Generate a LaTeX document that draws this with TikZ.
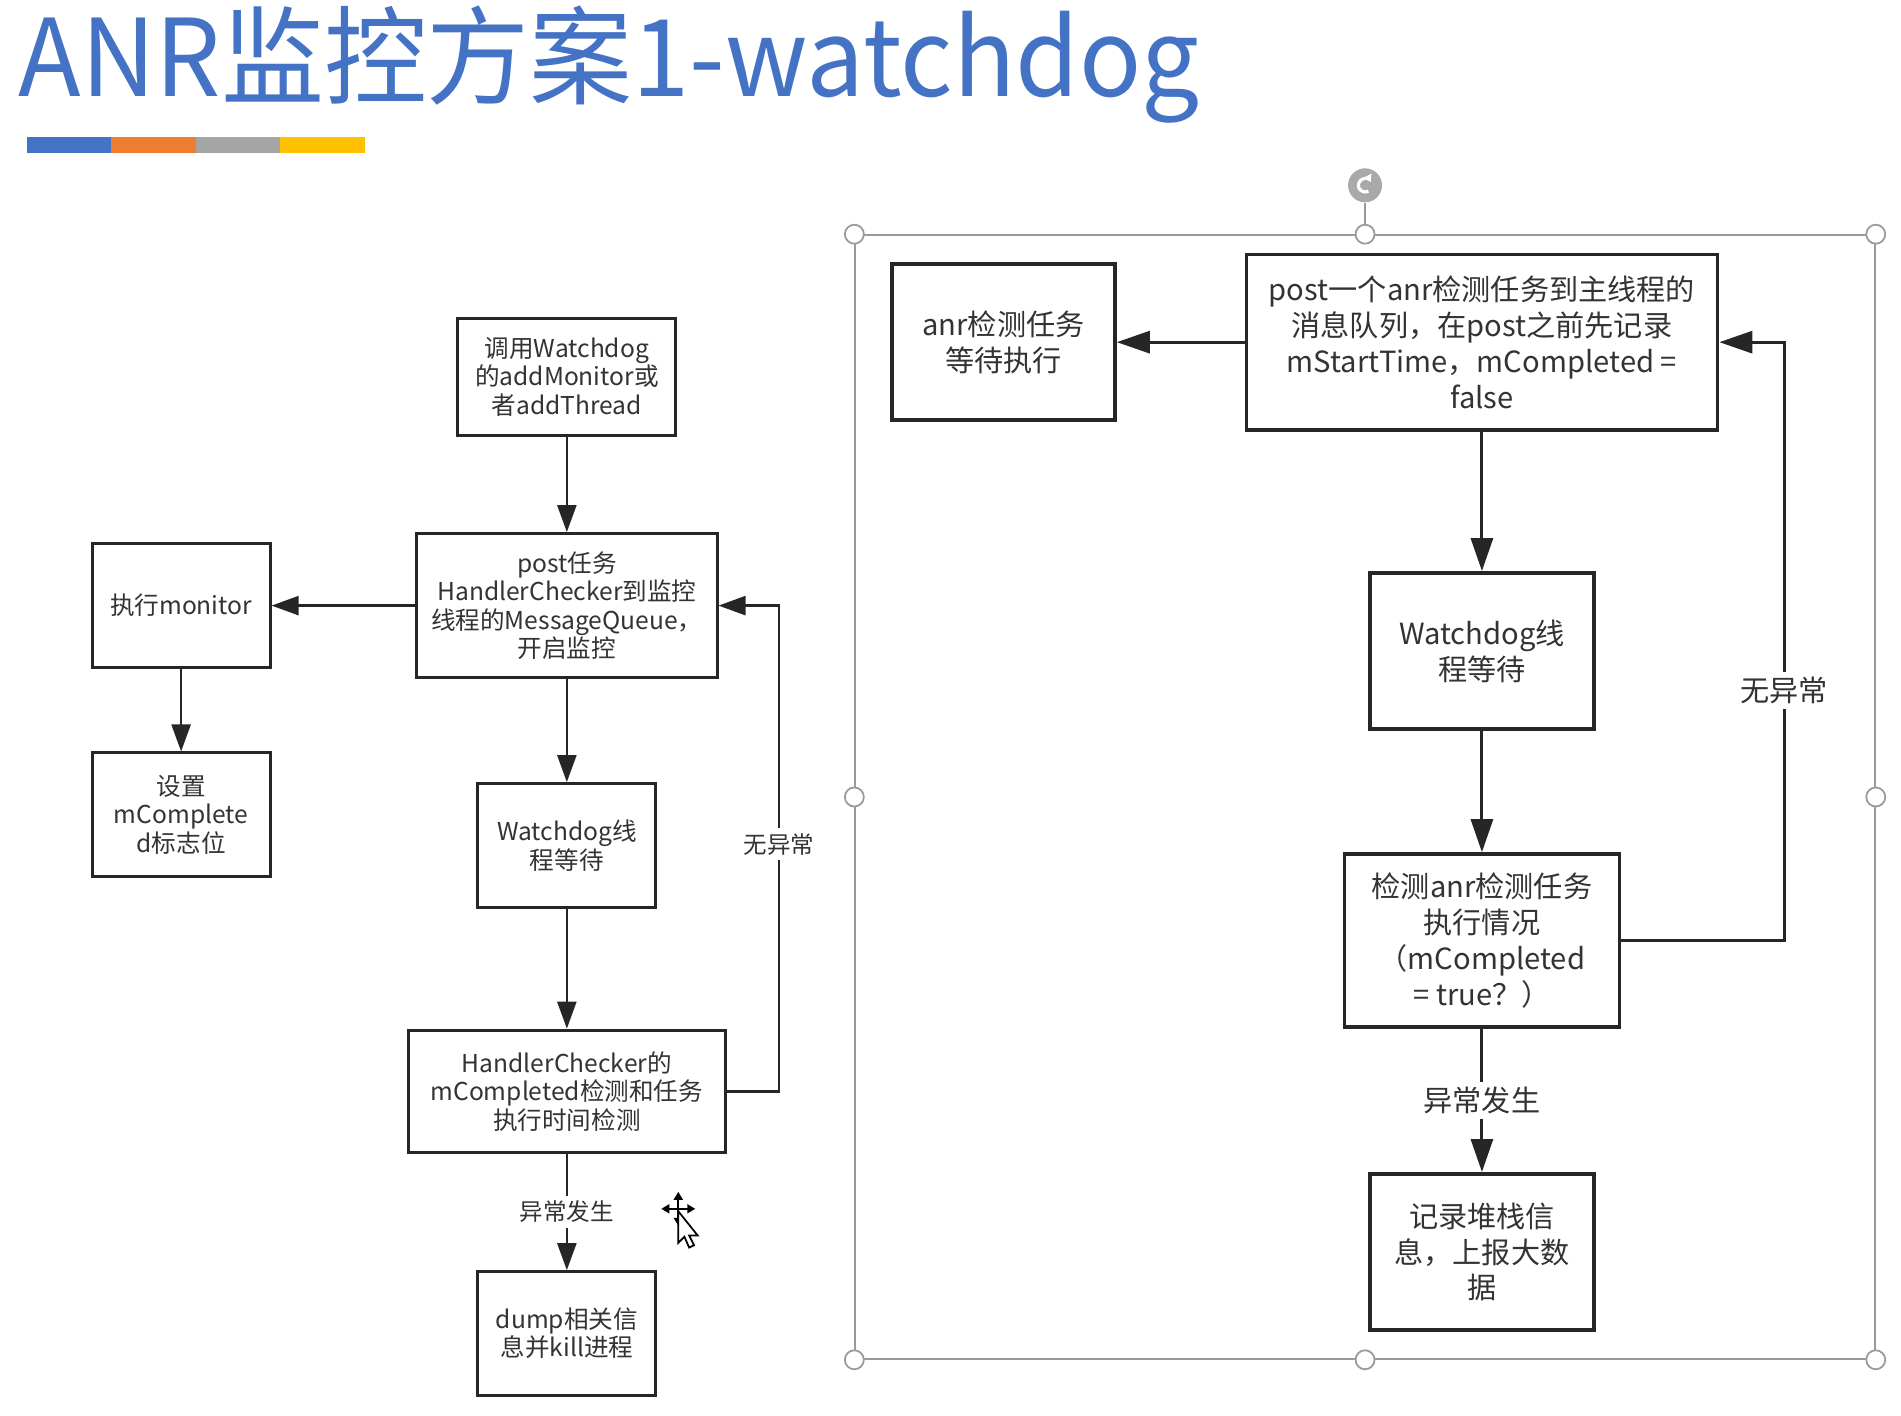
\documentclass[tikz,border=0pt]{standalone}
\usepackage{fontspec}
\setmainfont{Noto Sans CJK SC}
\usepackage{graphicx}
\usepackage{tikz}
\usetikzlibrary{positioning, arrows.meta, calc}
\definecolor{ttl}{HTML}{4472C4}
\definecolor{barorange}{HTML}{ED7D31}
\definecolor{bargray}{HTML}{A5A5A5}
\definecolor{baryellow}{HTML}{FFC000}
\definecolor{txt}{HTML}{333333}
\definecolor{hgray}{HTML}{9A9A9A}
\newcommand{\Lfont}{\fontsize{7pt}{8.1pt}\selectfont}
\newcommand{\Rfont}{\fontsize{8.3pt}{10.2pt}\selectfont}
\tikzset{
    blk/.style={draw=black!85, line width=0.85pt, align=center, text=txt, inner sep=2pt},
    lblk/.style={blk, font=\Lfont},
    rblk/.style={blk, line width=1.05pt, font=\Rfont},
    lab/.style={fill=white, text=txt, inner sep=1.5pt},
    handle/.style={circle, draw=hgray, fill=white, line width=0.5pt, minimum size=0.19cm, inner sep=0pt},
}

\begin{document}
\begin{tikzpicture}[x=0.012113cm, y=-0.012113cm]
    \tikzset{
      flow/.style={-{Triangle[length=0.27cm, width=0.19cm]}, line width=0.7pt, draw=black!85},
      rflow/.style={-{Triangle[length=0.33cm, width=0.22cm]}, line width=0.85pt, draw=black!85},
      node distance=1cm
    }
    \useasboundingbox (0,0) rectangle (1569.5,1169);

    % title and colour bar
    \node[anchor=base west, inner sep=0pt, text=ttl, font=\fontsize{30.5pt}{36pt}\selectfont] (title) at (15,80) {\scalebox{0.96}[1]{ANR监控方案1-watchdog}};
    \fill[ttl] (22,113) rectangle (92,126);
    \fill[barorange] (92,113) rectangle (162,126);
    \fill[bargray] (162,113) rectangle (231,126);
    \fill[baryellow] (231,113) rectangle (301,126);

    % left flow
    \node[lblk, minimum width=3.004cm, minimum height=1.441cm] (l1) at (468,500) {post任务\\HandlerChecker到监控\\线程的MessageQueue，\\开启监控};
    \node[lblk, minimum width=2.18cm, minimum height=1.163cm, above=0.956cm of l1] (l0) {调用Watchdog\\的addMonitor或\\者addThread};
    \node[lblk, minimum width=1.781cm, minimum height=1.236cm, left=1.436cm of l1] (l2) {执行monitor};
    \node[lblk, minimum width=1.781cm, minimum height=1.236cm, below=0.826cm of l2] (l3) {设置\\mComplete\\d标志位};
    \node[lblk, minimum width=1.781cm, minimum height=1.236cm, below=1.03cm of l1] (l4) {Watchdog线\\程等待};
    \node[lblk, minimum width=3.174cm, minimum height=1.223cm, below=1.2cm of l4] (l5) {HandlerChecker的\\mCompleted检测和任务\\执行时间检测};
    \node[lblk, minimum width=1.781cm, minimum height=1.236cm, below=1.163cm of l5] (l6) {dump相关信\\息并kill进程};

    \draw[flow] (l0) -- (l1);
    \draw[flow] (l1) -- (l2);
    \draw[flow] (l2) -- (l3);
    \draw[flow] (l1) -- (l4);
    \draw[flow] (l4) -- (l5);
    \draw[flow] (l5) -- node[lab, font=\fontsize{6.7pt}{8pt}\selectfont]{异常发生} (l6);
    \coordinate (lret) at (643,697);
    \draw[flow] (l5.east) -| (lret) |- (l1.east);
    \node[lab, font=\fontsize{6.7pt}{8pt}\selectfont] at (lret) {无异常};

    % selection frame
    \node[draw=hgray, line width=0.5pt, minimum width=10.199cm, minimum height=11.241cm, inner sep=0pt] (sel) at (1127,658) {};
    \node[circle, fill=hgray!85, minimum size=0.34cm, inner sep=0pt] (rot) at (1127,153) {};
    \draw[white, line width=0.9pt, -{Triangle[length=0.7mm, width=0.9mm]}] ([shift={(60:5.5)}]rot.center) arc[start angle=60, end angle=330, radius=5.5];
    \draw[hgray, line width=0.5pt] (rot) -- (sel.north);
    \foreach \a in {north west, north, north east, east, south east, south, south west, west}
      \node[handle] at (sel.\a) {};

    % right flow
    \node[rblk, minimum width=4.712cm, minimum height=1.756cm] (r1) at (1223.5,282.5) {post一个anr检测任务到主线程的\\消息队列，在post之前先记录\\mStartTime，mCompleted =\\false};
    \node[rblk, minimum width=2.229cm, minimum height=1.563cm, left=1.278cm of r1] (r0) {anr检测任务\\等待执行};
    \node[rblk, minimum width=2.241cm, minimum height=1.563cm, below=1.393cm of r1] (r2) {Watchdog线\\程等待};
    \node[rblk, minimum width=2.75cm, minimum height=1.732cm, below=1.212cm of r2] (r3) {检测anr检测任务\\执行情况\\（mCompleted\\= true？）};
    \node[rblk, minimum width=2.241cm, minimum height=1.563cm, below=1.43cm of r3] (r4) {记录堆栈信\\息，上报大数\\据};

    \draw[rflow] (r1) -- (r0);
    \draw[rflow] (r1) -- (r2);
    \draw[rflow] (r2) -- (r3);
    \draw[rflow] (r3) -- node[lab, font=\Rfont]{异常发生} (r4);
    \coordinate (rret) at (1473,570);
    \draw[rflow] (r3.east) -| (rret) |- (r1.east);
    \node[lab, font=\Rfont] at (rret) {无异常};

    % mouse cursor
    \begin{scope}[shift={(560,998)}]
      \draw[line width=0.5pt, {Triangle[length=0.8mm, width=0.9mm]}-{Triangle[length=0.8mm, width=0.9mm]}] (-14,0) -- (14,0);
      \draw[line width=0.5pt, {Triangle[length=0.8mm, width=0.9mm]}-{Triangle[length=0.8mm, width=0.9mm]}] (0,-14) -- (0,14);
      \filldraw[fill=white, draw=black, line width=0.5pt] (0,2) -- (0,28) -- (5,23) -- (9,32) -- (13,30) -- (9,22) -- (16,22) -- cycle;
    \end{scope}
\end{tikzpicture}
\end{document}
